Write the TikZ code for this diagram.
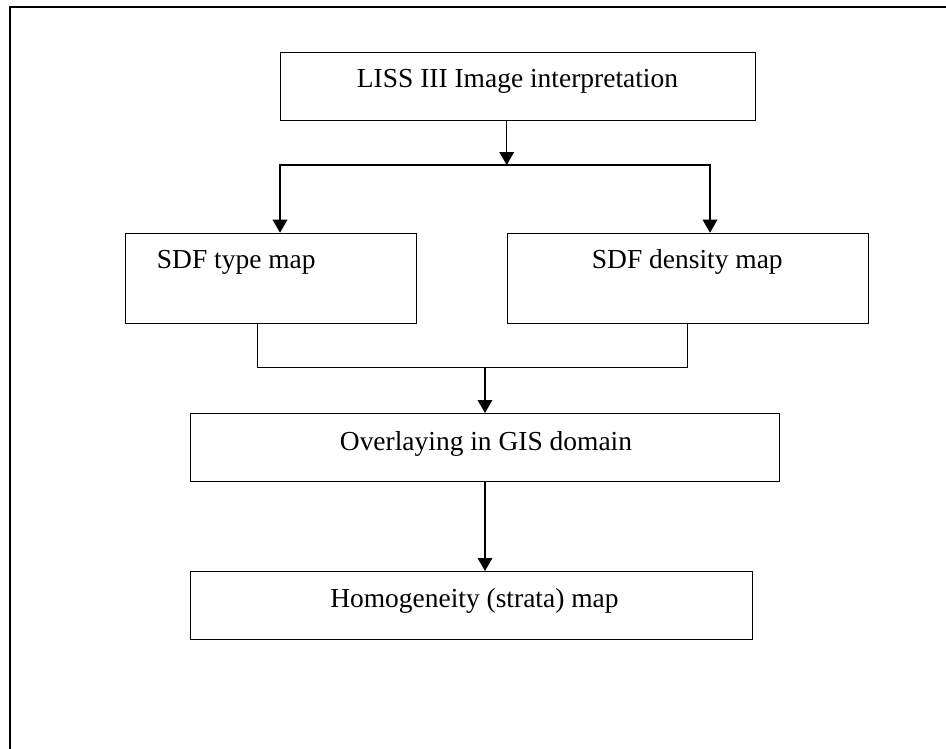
\documentclass[tikz,border=0pt]{standalone}
\usepackage{fontspec}
\setmainfont{Liberation Serif}
\usetikzlibrary{arrows.meta}
\begin{document}
\begin{tikzpicture}[x=0.75pt,y=-0.75pt,
  box/.style={draw,line width=0.9pt,inner sep=0pt,anchor=north west},
  lbl/.style={inner sep=0pt,font=\fontsize{20.6}{24}\selectfont},
  conn/.style={line width=0.9pt},
  arr/.style={conn,-{Triangle[length=9.75pt,width=11pt]}}]
\useasboundingbox (0,0) rectangle (946,749);
% outer frame (cut at right and bottom)
\draw[line width=1.5pt] (9.5,760) -- (9.5,6.7) -- (960,6.7);
% boxes
\node[box,minimum width=356.25pt,minimum height=51pt] (liss) at (280,52) {};
\node[box,minimum width=218.25pt,minimum height=67.5pt] (typ) at (125,232.7) {};
\node[box,minimum width=270.75pt,minimum height=67.5pt] (dens) at (506.7,232.7) {};
\node[box,minimum width=441.75pt,minimum height=51pt] (ovl) at (190,413) {};
\node[box,minimum width=421.5pt,minimum height=51pt] (hom) at (190,571) {};
% texts
\node[lbl,anchor=base] (tliss) at (517.5,88) {LISS III Image interpretation};
\node[lbl,anchor=base west] (ttyp) at (156.7,268.3) {SDF type map};
\node[lbl,anchor=base west] (tdens) at (591.7,268.3) {SDF density map};
\node[lbl,anchor=base] (tovl) at (486,450) {Overlaying in GIS domain};
\node[lbl,anchor=base] (thom) at (474.4,607) {Homogeneity (strata) map};
% connectors
\coordinate (bm) at (506.7,165);
\coordinate (bl) at (280,165);
\coordinate (br) at (710,165);
\draw[arr] (liss.south -| bm) -- (bm);
\draw[arr] (bm) -- (bl) -- (typ.north -| bl);
\draw[arr] (bm) -- (br) -- (dens.north -| br);
\coordinate (ml) at (257.7,367.7);
\coordinate (mr) at (687.3,367.7);
\coordinate (mm) at (485,367.7);
\draw[conn] (typ.south -| ml) -- (ml) -- (mr) -- (dens.south -| mr);
\draw[arr] (mm) -- (ovl.north -| mm);
\draw[arr] (ovl.south -| mm) -- (hom.north -| mm);
\end{tikzpicture}
\end{document}
